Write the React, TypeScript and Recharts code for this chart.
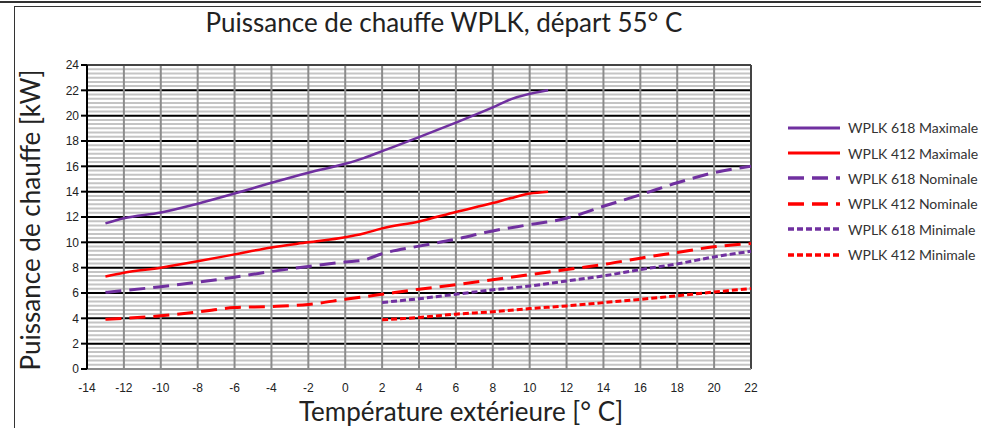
import React from "react";
import {
  LineChart,
  Line,
  XAxis,
  YAxis,
  CartesianGrid,
  ReferenceLine,
} from "recharts";

// temperatures (x) and power in kW (y)
const max618X = [-13, -12, -10, -8, -6, -4, -2, 0, 1, 2, 4, 6, 8, 9, 11];
const max618Y = [11.5, 11.9, 12.35, 13.05, 13.85, 14.7, 15.5, 16.2, 16.65, 17.2, 18.3, 19.45, 20.65, 21.3, 22.0];

const max412X = [-13, -12, -10, -8, -6, -4, -2, 0, 1, 2, 4, 6, 8, 9, 10, 11];
const max412Y = [7.3, 7.6, 8.0, 8.5, 9.05, 9.6, 10.0, 10.4, 10.7, 11.1, 11.65, 12.4, 13.1, 13.5, 13.85, 14.0];

const nom618X = [-13, -10, -8, -6, -4, -2, 0, 1, 2, 4, 6, 8, 10, 12, 14, 16, 18, 20, 22];
const nom618Y = [6.05, 6.5, 6.85, 7.25, 7.7, 8.1, 8.45, 8.6, 9.1, 9.7, 10.25, 10.9, 11.4, 11.9, 12.85, 13.75, 14.7, 15.5, 16.0];

const nom412X = [-13, -10, -8, -6, -4, -2, 0, 2, 4, 6, 8, 10, 12, 14, 16, 18, 20, 22];
const nom412Y = [3.93, 4.2, 4.5, 4.85, 4.93, 5.1, 5.5, 5.9, 6.3, 6.65, 7.05, 7.45, 7.85, 8.25, 8.75, 9.2, 9.65, 9.9];

const min618X = [2, 4, 6, 8, 10, 12, 14, 16, 18, 20, 22];
const min618Y = [5.25, 5.55, 5.9, 6.25, 6.55, 6.95, 7.35, 7.85, 8.3, 8.85, 9.3];

const min412X = [2, 4, 6, 8, 10, 12, 14, 16, 18, 20, 22];
const min412Y = [3.88, 4.07, 4.33, 4.52, 4.77, 4.98, 5.24, 5.5, 5.78, 6.08, 6.35];

const xTicks = [-14, -12, -10, -8, -6, -4, -2, 0, 2, 4, 6, 8, 10, 12, 14, 16, 18, 20, 22];
const yTicks = [0, 2, 4, 6, 8, 10, 12, 14, 16, 18, 20, 22, 24];

// thin grey lines every third of a kW between the black ones
const yMinor = Array.from({ length: 73 }, (_, i) => i / 3).filter((_, i) => i % 6 !== 0);

const PURPLE = "#7030A0";
const RED = "#FF0000";

const toPoints = (xs: number[], ys: number[]) => xs.map((x, i) => ({ x, y: ys[i] }));

const series = [
  { name: "WPLK 618 Maximale", xs: max618X, ys: max618Y, color: PURPLE, dash: undefined, width: 2.5 },
  { name: "WPLK 412 Maximale", xs: max412X, ys: max412Y, color: RED, dash: undefined, width: 2.5 },
  { name: "WPLK 618 Nominale", xs: nom618X, ys: nom618Y, color: PURPLE, dash: "16 8", width: 3 },
  { name: "WPLK 412 Nominale", xs: nom412X, ys: nom412Y, color: RED, dash: "16 8", width: 3 },
  { name: "WPLK 618 Minimale", xs: min618X, ys: min618Y, color: PURPLE, dash: "6 3", width: 3 },
  { name: "WPLK 412 Minimale", xs: min412X, ys: min412Y, color: RED, dash: "6 3", width: 3 },
];

const geo = "Lato, 'Open Sans', sans-serif";

function ChartLegend() {
  return (
    <div style={{ position: "absolute", left: 786, top: 115, fontFamily: geo, fontSize: 14, color: "#333" }}>
      {series.map((s) => (
        <div key={s.name} style={{ display: "flex", alignItems: "center", height: 25.4 }}>
          <svg width={56} height={8} style={{ marginRight: 6 }}>
            <line x1={2} y1={4} x2={54} y2={4} stroke={s.color} strokeWidth={s.width + 0.5} strokeDasharray={s.dash} />
          </svg>
          <span>{s.name}</span>
        </div>
      ))}
    </div>
  );
}

export default function App() {
  return (
    <div style={{ position: "absolute", left: 0, top: 0, width: 981, height: 428, background: "#fff", overflow: "hidden" }}>
      <div style={{ position: "absolute", left: 0, top: 1, width: 981, borderTop: "2px solid #333" }} />
      <div style={{ position: "absolute", left: 14, top: 6, width: 990, height: 440, borderLeft: "1px solid #333", borderTop: "1px solid #333" }} />
      <div style={{ position: "absolute", left: 0, top: 9, width: 888, textAlign: "center", fontFamily: geo, fontSize: 26, lineHeight: "26px", color: "#222" }}>
        Puissance de chauffe WPLK, départ 55° C
      </div>
      <div
        style={{
          position: "absolute",
          left: 30,
          top: 220,
          transform: "translate(-50%, -50%) rotate(-90deg)",
          whiteSpace: "nowrap",
          fontFamily: geo,
          fontSize: 26,
          lineHeight: "26px",
          color: "#222",
        }}
      >
        Puissance de chauffe [kW]
      </div>
      <div style={{ position: "absolute", left: 0, top: 398, width: 922, textAlign: "center", fontFamily: geo, fontSize: 26, lineHeight: "26px", color: "#222" }}>
        Température extérieure [° C]
      </div>
      <LineChart width={981} height={428} margin={{ top: 65, right: 230, bottom: 0, left: 0 }}>
        <CartesianGrid horizontalValues={yMinor} vertical={false} stroke="#c4c4c4" strokeWidth={2} />
        <CartesianGrid horizontalValues={yTicks} vertical={false} stroke="#000" strokeWidth={2} />
        <CartesianGrid verticalValues={xTicks.slice(1)} horizontal={false} stroke="#8c8c8c" strokeWidth={2} />
        <ReferenceLine x={22} stroke="#444" strokeWidth={2} />
        <ReferenceLine y={24} stroke="#444" strokeWidth={2} />
        <XAxis
          type="number"
          dataKey="x"
          domain={[-14, 22]}
          ticks={xTicks}
          interval={0}
          height={59}
          axisLine={{ stroke: "#8c8c8c", strokeWidth: 2 }}
          tickLine={false}
          tick={{ fontFamily: "'Liberation Sans', sans-serif", fontSize: 12, fill: "#222" }}
          tickMargin={8}
          allowDuplicatedCategory={false}
        />
        <YAxis
          type="number"
          domain={[0, 24]}
          ticks={yTicks}
          interval={0}
          width={87}
          axisLine={{ stroke: "#000", strokeWidth: 2 }}
          tickLine={{ stroke: "#000", strokeWidth: 2 }}
          tickSize={6}
          tick={{ fontFamily: "'Liberation Sans', sans-serif", fontSize: 12, fill: "#222" }}
        />
        {series.map((s) => (
          <Line
            key={s.name}
            name={s.name}
            data={toPoints(s.xs, s.ys)}
            dataKey="y"
            type="monotone"
            stroke={s.color}
            strokeWidth={s.width}
            strokeDasharray={s.dash}
            dot={false}
            activeDot={false}
            isAnimationActive={false}
          />
        ))}
      </LineChart>
      <ChartLegend />
    </div>
  );
}
